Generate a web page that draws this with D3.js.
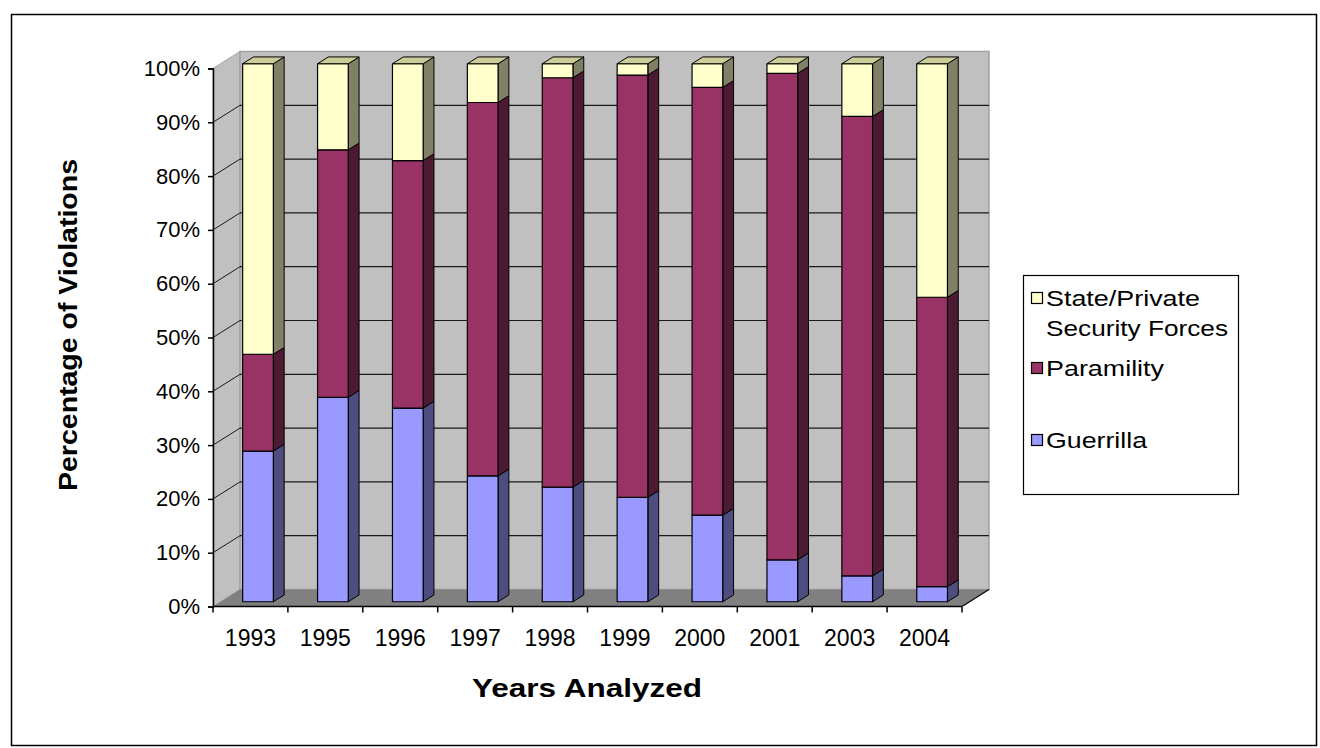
<!DOCTYPE html>
<html>
<head>
<meta charset="utf-8">
<script src="https://cdn.jsdelivr.net/npm/d3@7"></script>
<style>
  html, body { margin: 0; padding: 0; background: #fff; }
  svg { display: block; }
  text { font-family: "Liberation Sans", Arial, sans-serif; fill: #000; }
</style>
</head>
<body>
<svg id="chart" width="1320" height="748"></svg>
<script>
// Share of violations by perpetrator, per year (percent of the year's total)
const years = ["1993", "1995", "1996", "1997", "1998", "1999", "2000", "2001", "2003", "2004"];
const guerrilla  = [28.0, 38.0, 36.0, 23.4, 21.3, 19.4, 16.1, 7.8, 4.8, 2.8];
const paramility = [18.0, 46.0, 46.0, 69.4, 76.1, 78.5, 79.5, 90.4, 85.4, 53.8];
const statePriv  = [54.0, 16.0, 18.0, 7.2, 2.6, 2.1, 4.4, 1.8, 9.8, 43.4];
const seriesNames = ["Guerrilla", "Paramility", "State/Private Security Forces"];
const yTicks = [0, 10, 20, 30, 40, 50, 60, 70, 80, 90, 100];

const rows = years.map((yr, i) => ({
  year: yr,
  Guerrilla: guerrilla[i],
  Paramility: paramility[i],
  "State/Private Security Forces": statePriv[i]
}));

const colors = {
  "Guerrilla": { front: "#9999ff", side: "#4d4d80", top: "#7a7acc" },
  "Paramility": { front: "#993366", side: "#4d1a33", top: "#7a2952" },
  "State/Private Security Forces": { front: "#ffffcc", side: "#808066", top: "#cccc99" }
};

const svg = d3.select("#chart");

// outer frame
svg.append("rect").attr("x", 11.5).attr("y", 14.5).attr("width", 1305).attr("height", 731)
  .attr("fill", "#fff").attr("stroke", "#000").attr("stroke-width", 1.5);

// plot geometry: front plane plus an oblique depth vector
const x = d3.scaleBand().domain(years).range([213, 962]).paddingInner(0).paddingOuter(0);
const y = d3.scaleLinear().domain([0, 100]).range([606.5, 68.5]);
const depth = { dx: 27, dy: -17 };
const P = (px, py, z) => [px + depth.dx * z, py + depth.dy * z];
const poly = pts => pts.map(p => p.join(",")).join(" ");

const x0 = x.range()[0], x1 = x.range()[1];
const g = svg.append("g");

// left side wall
g.append("polygon")
  .attr("points", poly([P(x0, y(100), 0), P(x0, y(100), 1), P(x0, y(0), 1), P(x0, y(0), 0)]))
  .attr("fill", "#c0c0c0").attr("stroke", "#a0a0a0").attr("stroke-width", 1);

// back wall
const bw = [P(x0, y(100), 1), P(x1, y(100), 1), P(x1, y(0), 1), P(x0, y(0), 1)];
g.append("polygon").attr("points", poly(bw))
  .attr("fill", "#c0c0c0").attr("stroke", "#a0a0a0").attr("stroke-width", 1.5);

// floor
g.append("polygon")
  .attr("points", poly([P(x0, y(0), 0), P(x0, y(0), 1), P(x1, y(0), 1), P(x1, y(0), 0)]))
  .attr("fill", "#808080").attr("stroke", "none");

// gridlines on back wall and left wall
yTicks.filter(t => t > 0 && t < 100).forEach(t => {
  const a = P(x0, y(t), 1), b = P(x1, y(t), 1), c = P(x0, y(t), 0);
  g.append("line").attr("x1", a[0]).attr("y1", a[1]).attr("x2", b[0]).attr("y2", b[1])
    .attr("stroke", "#1a1a1a").attr("stroke-width", 1.2);
  g.append("line").attr("x1", c[0]).attr("y1", c[1]).attr("x2", a[0]).attr("y2", a[1])
    .attr("stroke", "#1a1a1a").attr("stroke-width", 1);
});

// floor right edge
{
  const a = P(x1, y(0), 0), b = P(x1, y(0), 1);
  g.append("line").attr("x1", a[0]).attr("y1", a[1]).attr("x2", b[0]).attr("y2", b[1])
    .attr("stroke", "#000").attr("stroke-width", 1.2);
}

// stacked 3D columns
const stack = d3.stack().keys(seriesNames)(rows);
const zF = 0.28, zB = 0.68;
const barW = x.bandwidth() * 0.41;
const bars = g.append("g");

stack.forEach((layer, li) => {
  const key = layer.key;
  const c = colors[key];
  layer.forEach((d, i) => {
    const cx = x(d.data.year) + x.bandwidth() / 2;
    const L = cx - barW / 2, R = cx + barW / 2;
    const yb = y(d[0]), yt = y(d[1]);
    const grp = bars.append("g");
    // side face
    grp.append("polygon")
      .attr("points", poly([P(R, yt, zF), P(R, yt, zB), P(R, yb, zB), P(R, yb, zF)]))
      .attr("fill", c.side).attr("stroke", "#000").attr("stroke-width", 1).attr("stroke-linejoin", "round");
    // front face
    grp.append("polygon")
      .attr("points", poly([P(L, yt, zF), P(R, yt, zF), P(R, yb, zF), P(L, yb, zF)]))
      .attr("fill", c.front).attr("stroke", "#000").attr("stroke-width", 1.2).attr("stroke-linejoin", "round");
    // top face on the uppermost segment
    if (li === stack.length - 1) {
      grp.append("polygon")
        .attr("points", poly([P(L, yt, zF), P(L, yt, zB), P(R, yt, zB), P(R, yt, zF)]))
        .attr("fill", c.top).attr("stroke", "#000").attr("stroke-width", 1).attr("stroke-linejoin", "round");
    }
  });
});

// y axis (front plane)
const yAxis = d3.axisLeft(y).tickValues(yTicks).tickSize(5).tickPadding(8)
  .tickFormat(d => d + "%");
const yg = svg.append("g").attr("transform", `translate(${x0},0)`).call(yAxis);
yg.select(".domain").attr("stroke", "#000").attr("stroke-width", 1.5);
yg.selectAll(".tick line").attr("stroke", "#000").attr("stroke-width", 1.5);
yg.selectAll(".tick text").attr("font-size", 22).attr("font-family", "Liberation Sans, Arial, sans-serif");

// x axis (front plane): tick marks at category boundaries, labels at centres
const xg = svg.append("g").attr("transform", `translate(0,${y(0)})`);
xg.append("line").attr("x1", x0).attr("x2", x1).attr("y1", 0).attr("y2", 0)
  .attr("stroke", "#000").attr("stroke-width", 1.5);
const bounds = years.map(yr => x(yr)).concat([x1]);
xg.selectAll("line.tk").data(bounds).join("line").attr("class", "tk")
  .attr("x1", d => d).attr("x2", d => d).attr("y1", 0).attr("y2", 6)
  .attr("stroke", "#000").attr("stroke-width", 1.5);
xg.selectAll("text.yr").data(years).join("text").attr("class", "yr")
  .attr("x", d => x(d) + x.bandwidth() / 2).attr("y", 39)
  .attr("text-anchor", "middle").attr("font-size", 23).text(d => d);

// axis titles
svg.append("text").attr("x", 587).attr("y", 697).attr("text-anchor", "middle")
  .attr("font-size", 25).attr("font-weight", "bold")
  .attr("textLength", 230).attr("lengthAdjust", "spacingAndGlyphs").text("Years Analyzed");
svg.append("text").attr("transform", "translate(77,325) rotate(-90)").attr("text-anchor", "middle")
  .attr("font-size", 25).attr("font-weight", "bold")
  .attr("textLength", 332).attr("lengthAdjust", "spacingAndGlyphs").text("Percentage of Violations");

// legend
const lg = svg.append("g");
lg.append("rect").attr("x", 1023.5).attr("y", 275.5).attr("width", 215).attr("height", 219)
  .attr("fill", "#fff").attr("stroke", "#000").attr("stroke-width", 1.2);
const legendItems = [
  { key: "State/Private Security Forces", lines: ["State/Private", "Security Forces"], widths: [154, 182], y: 298 },
  { key: "Paramility", lines: ["Paramility"], widths: [118], y: 368 },
  { key: "Guerrilla", lines: ["Guerrilla"], widths: [101], y: 440 }
];
legendItems.forEach(it => {
  lg.append("rect").attr("x", 1031.5).attr("y", it.y - 5.5).attr("width", 11).attr("height", 11)
    .attr("fill", colors[it.key].front).attr("stroke", "#000").attr("stroke-width", 1.2);
  it.lines.forEach((ln, k) => {
    lg.append("text").attr("x", 1046).attr("y", it.y + 8 + k * 30).attr("font-size", 22)
      .attr("textLength", it.widths[k]).attr("lengthAdjust", "spacingAndGlyphs").text(ln);
  });
});
</script>
</body>
</html>
